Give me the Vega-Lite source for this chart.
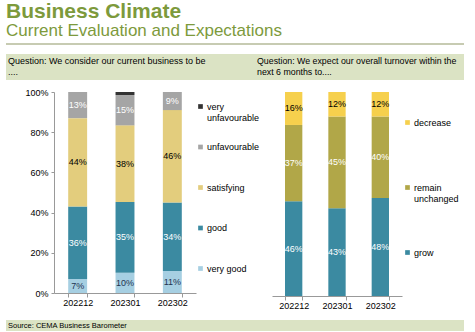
{
  "$schema": "https://vega.github.io/schema/vega-lite/v6.json",
  "padding": {"left": 5, "top": 1, "right": 0, "bottom": 0},
  "background": "white",
  "config": {"font": "Liberation Sans", "view": {"stroke": null}, "text": {"font": "Liberation Sans"}},
  "title": {"text": "Business Climate", "subtitle": "Current Evaluation and Expectations", "anchor": "start", "frame": "group", "fontSize": 21, "fontWeight": "bold", "color": "#7d9a3c", "subtitleFontSize": 17, "subtitleColor": "#7d9a3c", "subtitlePadding": 1, "offset": 4, "font": "Liberation Sans", "subtitleFont": "Liberation Sans"},
  "datasets": {
    "ord1": [{"c": "very good", "k": 0}, {"c": "good", "k": 1}, {"c": "satisfying", "k": 2}, {"c": "unfavourable", "k": 3}, {"c": "very unfavourable", "k": 4}],
    "ord2": [{"c": "grow", "k": 0}, {"c": "remain unchanged", "k": 1}, {"c": "decrease", "k": 2}]
  },
  "spacing": 10,
  "vconcat": [
    {
      "spacing": 6,
      "vconcat": [
        {
          "spacing": 0,
          "vconcat": [
            {
              "width": 458, "height": 10,
              "data": {"values": [{"a": 0, "b": 1}]},
              "mark": {"type": "rule", "color": "#b5ba98", "strokeWidth": 1.5},
              "encoding": {
                "x": {"field": "a", "type": "quantitative", "scale": {"domain": [0, 1]}, "axis": null},
                "x2": {"field": "b"},
                "y": {"datum": 1, "type": "quantitative", "scale": {"domain": [0, 1]}, "axis": null}
              }
            },
            {
              "spacing": 0,
              "hconcat": [
                {
                  "width": 248, "height": 26,
                  "view": {"fill": "#dbe3c4", "stroke": null},
                  "data": {"values": [{"t": "Question: We consider our current business to be\n...."}]},
                  "mark": {"type": "text", "align": "left", "baseline": "top", "fontSize": 9, "lineBreak": "\n", "lineHeight": 11, "dx": 2, "dy": 3, "color": "black"},
                  "encoding": {
                    "x": {"datum": 0, "type": "quantitative", "scale": {"domain": [0, 1]}, "axis": null},
                    "y": {"datum": 1, "type": "quantitative", "scale": {"domain": [0, 1]}, "axis": null},
                    "text": {"field": "t"}
                  }
                },
                {
                  "width": 210, "height": 26,
                  "view": {"fill": "#dbe3c4", "stroke": null},
                  "data": {"values": [{"t": "Question: We expect our overall turnover within the\nnext 6 months to...."}]},
                  "mark": {"type": "text", "align": "left", "baseline": "top", "fontSize": 8.8, "lineBreak": "\n", "lineHeight": 11, "dx": 3, "dy": 3, "color": "black"},
                  "encoding": {
                    "x": {"datum": 0, "type": "quantitative", "scale": {"domain": [0, 1]}, "axis": null},
                    "y": {"datum": 1, "type": "quantitative", "scale": {"domain": [0, 1]}, "axis": null},
                    "text": {"field": "t"}
                  }
                }
              ]
            }
          ]
        },
        {
          "spacing": 0,
          "hconcat": [
            {
              "width": 1, "height": 1,
              "data": {"values": [{"t": ""}]},
              "mark": {"type": "text"},
              "encoding": {"text": {"field": "t"}}
            },
            {
              "spacing": 12,
              "hconcat": [
                {
                  "width": 142, "height": 201,
                  "data": {"values": [
                    {"m": "202212", "c": "very good", "v": 0.07},
                    {"m": "202212", "c": "good", "v": 0.36},
                    {"m": "202212", "c": "satisfying", "v": 0.44},
                    {"m": "202212", "c": "unfavourable", "v": 0.13},
                    {"m": "202212", "c": "very unfavourable", "v": 0.0},
                    {"m": "202301", "c": "very good", "v": 0.10},
                    {"m": "202301", "c": "good", "v": 0.35},
                    {"m": "202301", "c": "satisfying", "v": 0.38},
                    {"m": "202301", "c": "unfavourable", "v": 0.15},
                    {"m": "202301", "c": "very unfavourable", "v": 0.015},
                    {"m": "202302", "c": "very good", "v": 0.11},
                    {"m": "202302", "c": "good", "v": 0.34},
                    {"m": "202302", "c": "satisfying", "v": 0.46},
                    {"m": "202302", "c": "unfavourable", "v": 0.09},
                    {"m": "202302", "c": "very unfavourable", "v": 0.0}
                  ]},
                  "transform": [{"lookup": "c", "from": {"data": {"name": "ord1"}, "key": "c", "fields": ["k"]}}],
                  "encoding": {
                    "x": {"field": "m", "type": "nominal", "scale": {"paddingInner": 0.6, "paddingOuter": 0.3},
                      "axis": {"title": null, "labelAngle": 0, "tickBand": "extent", "domainColor": "#999999", "tickColor": "#999999", "tickSize": 4, "labelFontSize": 9, "labelColor": "black", "labelPadding": 1}}
                  },
                  "layer": [
                    {
                      "mark": {"type": "bar"},
                      "encoding": {
                        "y": {"field": "v", "type": "quantitative", "stack": "normalize", "scale": {"domain": [0, 1]},
                          "axis": {"title": null, "format": ".0%", "values": [0, 0.2, 0.4, 0.6, 0.8, 1], "grid": false, "domainColor": "#999999", "tickColor": "#999999", "tickSize": 3, "labelFontSize": 9, "labelColor": "black", "labelPadding": 3, "minExtent": 47}},
                        "order": {"field": "k", "type": "quantitative"},
                        "color": {"field": "c", "type": "nominal",
                          "scale": {"domain": ["very good", "good", "satisfying", "unfavourable", "very unfavourable"], "range": ["#a6cfe2", "#3b8aa1", "#e3cd7d", "#a5a5a5", "#333333"]},
                          "legend": {"orient": "none", "legendX": 142, "legendY": 10, "title": null, "values": ["very unfavourable", "unfavourable", "satisfying", "good", "very good"], "symbolType": "square", "symbolSize": 22, "symbolStrokeWidth": 0, "labelFontSize": 9, "labelColor": "black", "gridAlign": "all", "rowPadding": 19.5, "labelOffset": 2, "labelExpr": "datum.label == 'very unfavourable' ? ['very', 'unfavourable'] : datum.label"}}
                      }
                    },
                    {
                      "mark": {"type": "text", "fontSize": 9},
                      "encoding": {
                        "y": {"field": "v", "type": "quantitative", "stack": "normalize", "bandPosition": 0.5},
                        "order": {"field": "k", "type": "quantitative"},
                        "color": {"field": "c", "type": "nominal",
                          "scale": {"domain": ["very good", "good", "satisfying", "unfavourable", "very unfavourable"], "range": ["#1f3350", "#ffffff", "#000000", "#ffffff", "#ffffff"]},
                          "legend": null},
                        "text": {"condition": {"test": "datum.c === 'very unfavourable'", "value": ""}, "field": "v", "type": "quantitative", "format": ".0%"}
                      }
                    }
                  ],
                  "resolve": {"scale": {"color": "independent"}}
                },
                {
                  "width": 130, "height": 204,
                  "data": {"values": [
                    {"m": "202212", "c": "grow", "v": 0.46},
                    {"m": "202212", "c": "remain unchanged", "v": 0.37},
                    {"m": "202212", "c": "decrease", "v": 0.16},
                    {"m": "202301", "c": "grow", "v": 0.43},
                    {"m": "202301", "c": "remain unchanged", "v": 0.45},
                    {"m": "202301", "c": "decrease", "v": 0.12},
                    {"m": "202302", "c": "grow", "v": 0.48},
                    {"m": "202302", "c": "remain unchanged", "v": 0.40},
                    {"m": "202302", "c": "decrease", "v": 0.12}
                  ]},
                  "transform": [{"lookup": "c", "from": {"data": {"name": "ord2"}, "key": "c", "fields": ["k"]}}],
                  "encoding": {
                    "x": {"field": "m", "type": "nominal", "scale": {"paddingInner": 0.6, "paddingOuter": 0.3},
                      "axis": {"title": null, "labelAngle": 0, "tickBand": "extent", "domainColor": "#999999", "tickColor": "#999999", "tickSize": 4, "labelFontSize": 9, "labelColor": "black", "labelPadding": 1}}
                  },
                  "layer": [
                    {
                      "mark": {"type": "bar"},
                      "encoding": {
                        "y": {"field": "v", "type": "quantitative", "stack": "normalize", "scale": {"domain": [0, 1]}, "axis": null},
                        "order": {"field": "k", "type": "quantitative"},
                        "color": {"field": "c", "type": "nominal",
                          "scale": {"domain": ["grow", "remain unchanged", "decrease"], "range": ["#3b8aa1", "#b1a748", "#f6d04d"]},
                          "legend": {"orient": "none", "legendX": 131, "legendY": 26, "title": null, "values": ["decrease", "remain unchanged", "grow"], "symbolType": "square", "symbolSize": 22, "symbolStrokeWidth": 0, "labelFontSize": 9, "labelColor": "black", "gridAlign": "all", "rowPadding": 44, "labelOffset": 2, "labelExpr": "datum.label == 'remain unchanged' ? ['remain', 'unchanged'] : datum.label"}}
                      }
                    },
                    {
                      "mark": {"type": "text", "fontSize": 9},
                      "encoding": {
                        "y": {"field": "v", "type": "quantitative", "stack": "normalize", "bandPosition": 0.5},
                        "order": {"field": "k", "type": "quantitative"},
                        "color": {"field": "c", "type": "nominal",
                          "scale": {"domain": ["grow", "remain unchanged", "decrease"], "range": ["#ffffff", "#ffffff", "#000000"]},
                          "legend": null},
                        "text": {"field": "v", "type": "quantitative", "format": ".0%"}
                      }
                    }
                  ],
                  "resolve": {"scale": {"color": "independent"}}
                }
              ]
            }
          ]
        }
      ]
    },
    {
      "width": 458, "height": 11,
      "view": {"fill": "#dbe3c4", "stroke": null},
      "data": {"values": [{"t": "Source: CEMA Business Barometer"}]},
      "mark": {"type": "text", "align": "left", "baseline": "middle", "fontSize": 7.5, "dx": 2, "color": "black"},
      "encoding": {
        "x": {"datum": 0, "type": "quantitative", "scale": {"domain": [0, 1]}, "axis": null},
        "y": {"datum": 0.5, "type": "quantitative", "scale": {"domain": [0, 1]}, "axis": null},
        "text": {"field": "t"}
      }
    }
  ]
}
